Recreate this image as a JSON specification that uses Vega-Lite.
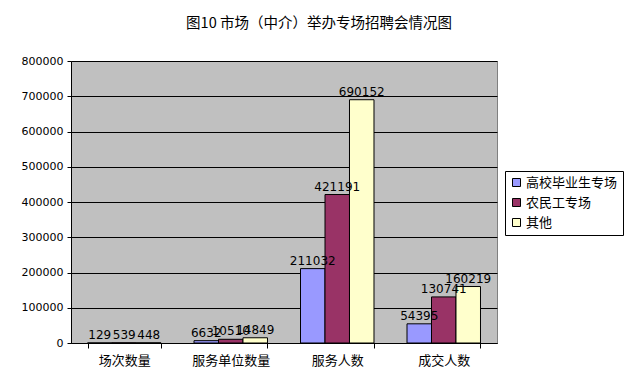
{
  "$schema": "https://vega.github.io/schema/vega-lite/v6.json",
  "width": 426,
  "height": 282,
  "autosize": {"type": "none"},
  "padding": {"left": 71, "top": 61, "right": 141, "bottom": 43},
  "background": "white",
  "title": {
    "text": "图10 市场（中介）举办专场招聘会情况图",
    "font": "Noto Sans CJK SC",
    "fontSize": 14.5,
    "fontWeight": "normal",
    "color": "black",
    "anchor": "middle",
    "dx": 35,
    "offset": 24
  },
  "data": {
    "values": [
      {"cat": "场次数量", "series": "高校毕业生专场", "value": 129},
      {"cat": "场次数量", "series": "农民工专场", "value": 539},
      {"cat": "场次数量", "series": "其他", "value": 448},
      {"cat": "服务单位数量", "series": "高校毕业生专场", "value": 6632},
      {"cat": "服务单位数量", "series": "农民工专场", "value": 10510},
      {"cat": "服务单位数量", "series": "其他", "value": 14849},
      {"cat": "服务人数", "series": "高校毕业生专场", "value": 211032},
      {"cat": "服务人数", "series": "农民工专场", "value": 421191},
      {"cat": "服务人数", "series": "其他", "value": 690152},
      {"cat": "成交人数", "series": "高校毕业生专场", "value": 54395},
      {"cat": "成交人数", "series": "农民工专场", "value": 130741},
      {"cat": "成交人数", "series": "其他", "value": 160219}
    ]
  },
  "encoding": {
    "x": {
      "field": "cat",
      "type": "nominal",
      "sort": ["场次数量", "服务单位数量", "服务人数", "成交人数"],
      "scale": {"paddingInner": 0.31, "paddingOuter": 0.155},
      "axis": {
        "title": null,
        "labelAngle": 0,
        "tickBand": "extent",
        "labelFont": "Noto Sans CJK SC",
        "labelFontSize": 13,
        "labelColor": "black",
        "labelPadding": 6,
        "domainColor": "black",
        "tickColor": "black",
        "tickSize": 5
      }
    },
    "xOffset": {
      "field": "series",
      "type": "nominal",
      "sort": ["高校毕业生专场", "农民工专场", "其他"],
      "scale": {"paddingInner": 0, "paddingOuter": 0}
    },
    "y": {
      "field": "value",
      "type": "quantitative",
      "scale": {"domain": [0, 800000], "nice": false},
      "axis": {
        "title": null,
        "values": [0, 100000, 200000, 300000, 400000, 500000, 600000, 700000, 800000],
        "labelOverlap": false,
        "format": "d",
        "labelFont": "DejaVu Sans",
        "labelFontSize": 11,
        "labelColor": "black",
        "grid": true,
        "gridColor": "black",
        "gridOpacity": 1,
        "domainColor": "black",
        "tickColor": "black",
        "tickSize": 4,
        "labelPadding": 4
      }
    }
  },
  "layer": [
    {
      "mark": {"type": "bar", "stroke": "black", "strokeWidth": 1},
      "encoding": {
        "color": {
          "field": "series",
          "type": "nominal",
          "scale": {
            "domain": ["高校毕业生专场", "农民工专场", "其他"],
            "range": ["#9999FF", "#993366", "#FFFFCC"]
          },
          "legend": {
            "title": null,
            "orient": "none",
            "legendX": 434,
            "legendY": 110,
            "padding": 5,
            "strokeColor": "black",
            "fillColor": "white",
            "symbolType": "square",
            "symbolSize": 64,
            "symbolStrokeColor": "black",
            "symbolStrokeWidth": 1,
            "symbolOpacity": 1,
            "labelFont": "Noto Sans CJK SC",
            "labelFontSize": 13,
            "labelColor": "black",
            "labelOffset": 3,
            "rowPadding": 6
          }
        }
      }
    },
    {
      "mark": {
        "type": "text",
        "baseline": "bottom",
        "dy": -1,
        "font": "DejaVu Sans",
        "fontSize": 12,
        "color": "black"
      },
      "encoding": {
        "text": {"field": "value", "type": "quantitative", "format": "d"}
      }
    }
  ],
  "config": {
    "view": {"fill": "#C0C0C0", "stroke": "#808080"}
  }
}
